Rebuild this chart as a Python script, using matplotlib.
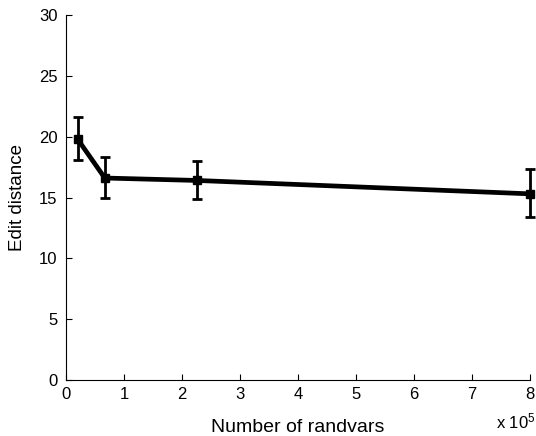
import matplotlib
matplotlib.use('Agg')
import matplotlib.pyplot as plt

plt.rcParams['font.family'] = ['Liberation Sans', 'DejaVu Sans']
plt.rcParams['mathtext.default'] = 'regular'

# number of random variables (x 10^5) vs edit distance
randvars = [0.2, 0.67, 2.26, 8.0]
edit_dist = [19.8, 16.6, 16.4, 15.3]
err_low = [18.1, 15.0, 14.9, 13.4]
err_high = [21.6, 18.3, 18.0, 17.3]

yerr = [[m - lo for m, lo in zip(edit_dist, err_low)],
        [hi - m for m, hi in zip(edit_dist, err_high)]]

fig = plt.figure(figsize=(5.36, 4.36), dpi=100)
ax = fig.add_axes([0.123, 0.128, 0.866, 0.838])

ax.errorbar(randvars, edit_dist, yerr=yerr, color='black', linewidth=3.4,
            marker='s', markersize=5.5, elinewidth=2, capsize=3.5, capthick=2,
            clip_on=False)

ax.set_xlim(0, 8)
ax.set_ylim(0, 30)
ax.set_xticks(range(0, 9))
ax.set_yticks(range(0, 31, 5))
ax.spines['top'].set_visible(False)
ax.spines['right'].set_visible(False)
ax.tick_params(direction='in', length=4, labelsize=12, width=0.8)
ax.tick_params(axis='x', pad=5)
ax.tick_params(axis='y', pad=6)
ax.set_xlabel('Number of randvars', fontsize=14, labelpad=12)
ax.set_ylabel('Edit distance', fontsize=13.5, labelpad=9)
fig.text(0.925, 0.018, r'x 10$^5$', fontsize=12)

fig.savefig('out.png', dpi=100)
